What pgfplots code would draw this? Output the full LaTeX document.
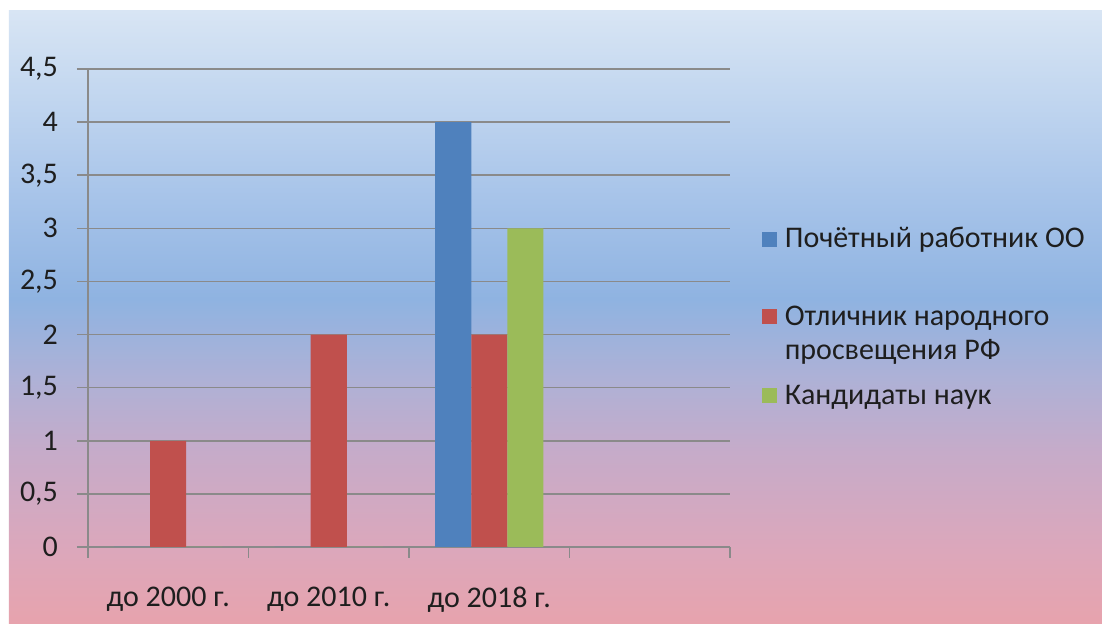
\documentclass[border=0pt]{standalone}
\usepackage{pgfplots}
\pgfplotsset{compat=1.18}
\usepackage{fontspec}
\setmainfont{Carlito}
\definecolor{axgray}{HTML}{8A8A8A}
\definecolor{labtext}{HTML}{1E1E1E}
\definecolor{barblue}{HTML}{4F81BD}
\definecolor{barred}{HTML}{C0504D}
\definecolor{bargreen}{HTML}{9BBB59}
\definecolor{g0}{HTML}{E7A3AD}
\definecolor{g1}{HTML}{DCA7BB}
\definecolor{g2}{HTML}{C6ABC9}
\definecolor{g3}{HTML}{AEB1D6}
\definecolor{g4}{HTML}{8FB3E1}
\definecolor{g5}{HTML}{A6C3E9}
\definecolor{g6}{HTML}{C0D5EF}
\definecolor{g7}{HTML}{D8E5F4}
\pgfdeclareverticalshading{bgshade}{100bp}{color(0bp)=(g0); color(25bp)=(g0); color(31bp)=(g1); color(39bp)=(g2); color(45bp)=(g3); color(51.5bp)=(g4); color(59.5bp)=(g5); color(67.5bp)=(g6); color(75bp)=(g7); color(100bp)=(g7)}
\begin{document}
\begin{tikzpicture}
\fill[white] (-44pt,-39pt) rectangle (507pt,273.5pt);
\shade[shading=bgshade] (-39.5pt,-38.5pt) rectangle (507pt,268pt);
\begin{axis}[
  at={(0,0)}, anchor=south west,
  scale only axis, width=321pt, height=239pt,
  xmin=-0.5, xmax=3.5, ymin=0, ymax=4.5,
  ytick={0,0.5,1,1.5,2,2.5,3,3.5,4,4.5},
  xtick={-0.5,0.5,1.5,2.5,3.5},
  xticklabels={до 2000 г., до 2010 г., до 2018 г., {}},
  x tick label as interval,
  tick align=outside,
  major tick length=5.5pt,
  axis x line*=bottom, axis y line*=left,
  axis line style={draw=axgray, line width=0.8pt, -},
  ymajorgrids, grid style={axgray, line width=0.8pt},
  tick style={axgray, line width=0.8pt},
  ybar=0pt, bar width=18pt,
  /pgf/number format/use comma,
  /pgf/number format/assume math mode=true,
  tick label style={font=\fontsize{15}{17}\selectfont, text=labtext},
  yticklabel style={xshift=-6pt},
  xticklabel style={yshift=-11pt},
  legend cell align=left,
  legend style={at={(1.049,0.67)}, anchor=north west, draw=none, fill=none,
    inner sep=0pt, row sep=0pt, column sep=4pt,
    font=\fontsize{15}{17}\selectfont, text=labtext,
    cells={anchor=base west},
    nodes={inner sep=0pt, text depth=}},
  sqleg/.style={legend image code/.code={\fill[##1] (0pt,0.5pt) rectangle (7.5pt,8pt);}},
]
\addplot[fill=barblue, draw=none, sqleg] coordinates {(0,0) (1,0) (2,4)};
\addplot[fill=barred, draw=none, sqleg] coordinates {(0,1) (1,2) (2,2)};
\addplot[fill=bargreen, draw=none, sqleg] coordinates {(0,0) (1,0) (2,3)};
\addlegendentry{\rule[-27pt]{0pt}{27pt}Почётный работник ОО}
\addlegendentry{\begin{tabular}[t]{@{}l@{}}Отличник народного\\просвещения РФ\end{tabular}}
\addlegendentry{\rule{0pt}{17.4pt}Кандидаты наук}
\end{axis}
\end{tikzpicture}
\end{document}
